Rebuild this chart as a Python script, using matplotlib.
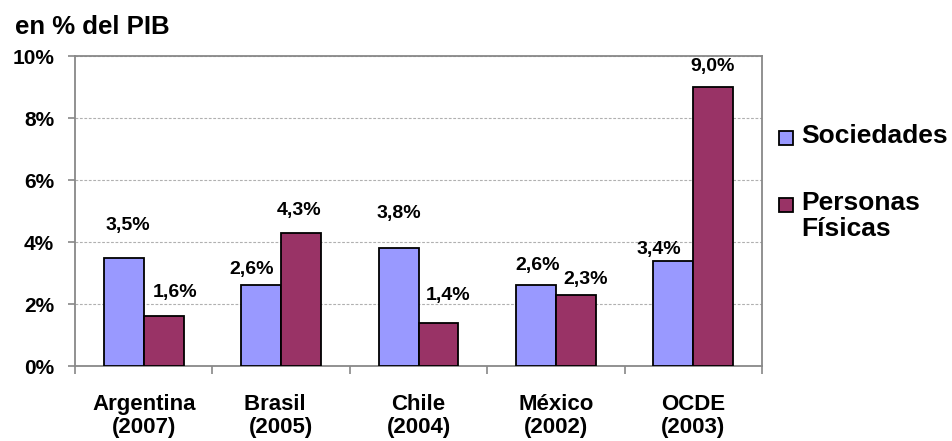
import numpy as np
import matplotlib.pyplot as plt
from matplotlib.patches import Rectangle

# datos: carga tributaria en % del PIB
paises = ["Argentina\n(2007)", "Brasil  \n(2005)", "Chile\n(2004)", "México\n(2002)", "OCDE\n(2003)"]
sociedades = [3.5, 2.6, 3.8, 2.6, 3.4]
personas = [1.6, 4.3, 1.4, 2.3, 9.0]
y_ticks = [0, 2, 4, 6, 8, 10]

# desplazamiento de las etiquetas de valor (pixeles, respecto al tope de la barra)
off_soc = [(4, 32), (-10, 16), (0, 35), (2, 20), (-15, 11)]
off_per = [(11, 24), (-2, 22), (10, 27), (10, 15), (-1, 20)]

plt.rcParams['font.family'] = ['Liberation Sans', 'DejaVu Sans']
plt.rcParams['font.weight'] = 'bold'

W, H = 953, 441
fig = plt.figure(figsize=(W / 100, H / 100), dpi=100)
ax = fig.add_axes([75 / W, 1 - 366 / H, (762 - 75) / W, (366 - 56) / H])

x = np.arange(len(paises))
ancho = 0.29
c_soc = '#9999FF'
c_per = '#993366'

b1 = ax.bar(x - ancho / 2, sociedades, ancho, color=c_soc, edgecolor='black', linewidth=1.3, zorder=3)
b2 = ax.bar(x + ancho / 2, personas, ancho, color=c_per, edgecolor='black', linewidth=1.3, zorder=3)

def fmt(v):
    return f"{v:.1f}".replace('.', ',') + '%'

for barras, vals, offs in [(b1, sociedades, off_soc), (b2, personas, off_per)]:
    for b, v, (dx, dy) in zip(barras, vals, offs):
        ax.annotate(fmt(v), (b.get_x() + b.get_width() / 2, v), xytext=(dx, dy),
                    textcoords='offset pixels', ha='center', va='center',
                    fontsize=14, fontweight='bold')

ax.set_xlim(-0.5, len(paises) - 0.5)
ax.set_ylim(0, 10)
ax.set_yticks(y_ticks)
ax.set_yticklabels([f"{t}%" for t in y_ticks], fontsize=15, fontweight='bold')
ax.tick_params(axis='y', length=5, width=1.2, color='#888888', pad=10)

# marcas entre categorias y etiquetas centradas
ax.set_xticks(np.arange(len(paises) + 1) - 0.5)
ax.set_xticklabels([])
ax.tick_params(axis='x', which='major', length=6, width=1.2, color='#888888')
ax.set_xticks(x, minor=True)
ax.set_xticklabels(paises, minor=True, fontsize=16, fontweight='bold', linespacing=1.12)
ax.tick_params(axis='x', which='minor', length=0, pad=20)

ax.yaxis.grid(True, linestyle=(0, (2.5, 1.5)), color='#b0b0b0', linewidth=0.8, zorder=0)
for s in ax.spines.values():
    s.set_color('#888888')
    s.set_linewidth(1.3)

fig.text(15 / W, 1 - 27 / H, "en % del PIB", fontsize=18.5, fontweight='bold', va='center', ha='left')

# leyenda
for nombre, col, yc in [("Sociedades", c_soc, 138), ("Personas\nFísicas", c_per, 205)]:
    fig.patches.append(Rectangle((779 / W, 1 - (yc + 7) / H), 14 / W, 14 / H,
                                 transform=fig.transFigure, facecolor=col,
                                 edgecolor='black', linewidth=1.3))
    fig.text(801 / W, 1 - (yc - 14) / H, nombre, fontsize=19, fontweight='bold',
             va='top', ha='left', linespacing=1.1)

fig.savefig('out.png', dpi=100)
